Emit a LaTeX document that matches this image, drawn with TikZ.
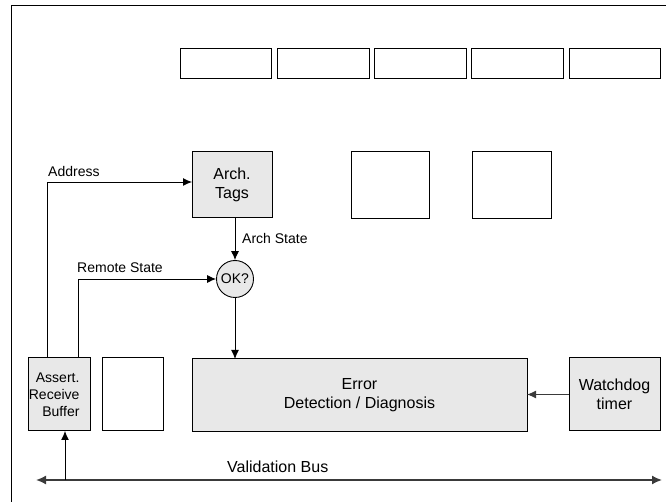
\documentclass[tikz,border=0pt]{standalone}
\usepackage{fontspec}
\setmainfont{Liberation Sans}
\usetikzlibrary{arrows.meta}
\definecolor{boxgray}{HTML}{E8E8E8}
\definecolor{linegray}{HTML}{3A3A3A}
\tikzset{
  blk/.style={draw=black, line width=1pt, inner sep=0pt, outer sep=0pt},
  gblk/.style={blk, fill=boxgray},
  wire/.style={draw=black, line width=0.9pt, -{Latex[length=9pt,width=8pt]}},
  lbl/.style={font=\fontsize{14}{16}\selectfont, anchor=west, inner sep=0pt},
  bigtxt/.style={font=\fontsize{16}{19}\selectfont, align=center},
}
\begin{document}
\begin{tikzpicture}[x=1pt,y=-1pt]
\useasboundingbox (0,0) rectangle (667,502);
% frame edges
\draw[line width=1pt] (11,502) -- (11,6) -- (666,6);

% register row
\foreach \xa/\xb [count=\i] in {180/271.5, 277.5/369, 374.5/466, 471.5/563, 569/660}
  \node[blk, minimum width={(\xb-\xa)*1pt}, minimum height=30pt] (reg\i) at ({(\xa+\xb)/2}, 64) {};

% upper blocks
\node[gblk, minimum width=80pt, minimum height=66pt, bigtxt] (tags) at (232,185) {Arch.\\Tags};
\node[blk, minimum width=78pt, minimum height=67pt] (emptyA) at (390,185.5) {};
\node[blk, minimum width=79pt, minimum height=67pt] (emptyB) at (511.5,185.5) {};

% comparator
\node[circle, draw=black, line width=0.9pt, fill=boxgray, minimum size=37pt, inner sep=0pt,
      font=\fontsize{14}{16}\selectfont] (ok) at (235,279) {OK?};

% lower blocks
\node[gblk, minimum width=62pt, minimum height=73pt] (buf) at (59,394.5) {};
\node[font=\fontsize{14}{17}\selectfont, align=right, anchor=east] at (83,395) {Assert.\\Receive\\Buffer};
\node[blk, minimum width=61pt, minimum height=73pt] (emptyC) at (132.5,394.5) {};
\node[gblk, minimum width=335pt, minimum height=73pt, bigtxt] (err) at (359.5,395.5) {Error\\Detection / Diagnosis};
\node[gblk, minimum width=91pt, minimum height=73pt, bigtxt] (wd) at (614.5,394.5) {Watchdog\\timer};

% validation bus
\coordinate (busL) at (36,480);
\coordinate (busR) at (662,480);
\coordinate (busTap) at (65,480);
\draw[draw=linegray, line width=1.6pt, {Latex[length=10pt,width=9pt]}-{Latex[length=10pt,width=9pt]}] (busL) -- (busR);
\node[lbl, font=\fontsize{16}{19}\selectfont] at (227,467) {Validation Bus};
\draw[wire] (busTap) -- (buf.south -| busTap);

% address path
\coordinate (addrX) at (47,0);
\draw[wire] (buf.north -| addrX) |- (tags.west |- 0,182);
\node[lbl] at (48,171.5) {Address};

% remote state path
\coordinate (remX) at (78,0);
\draw[wire] (buf.north -| remX) |- (ok.west);
\node[lbl] at (77,268) {Remote State};

% arch state
\draw[wire] (tags.south -| ok) -- (ok.north);
\node[lbl] at (242,238) {Arch State};

% comparator to error block
\draw[wire] (ok.south) -- (err.north -| ok);

% watchdog to error block
\draw[wire, draw=linegray] (wd.west) -- (err.east |- wd.west);
\end{tikzpicture}
\end{document}
